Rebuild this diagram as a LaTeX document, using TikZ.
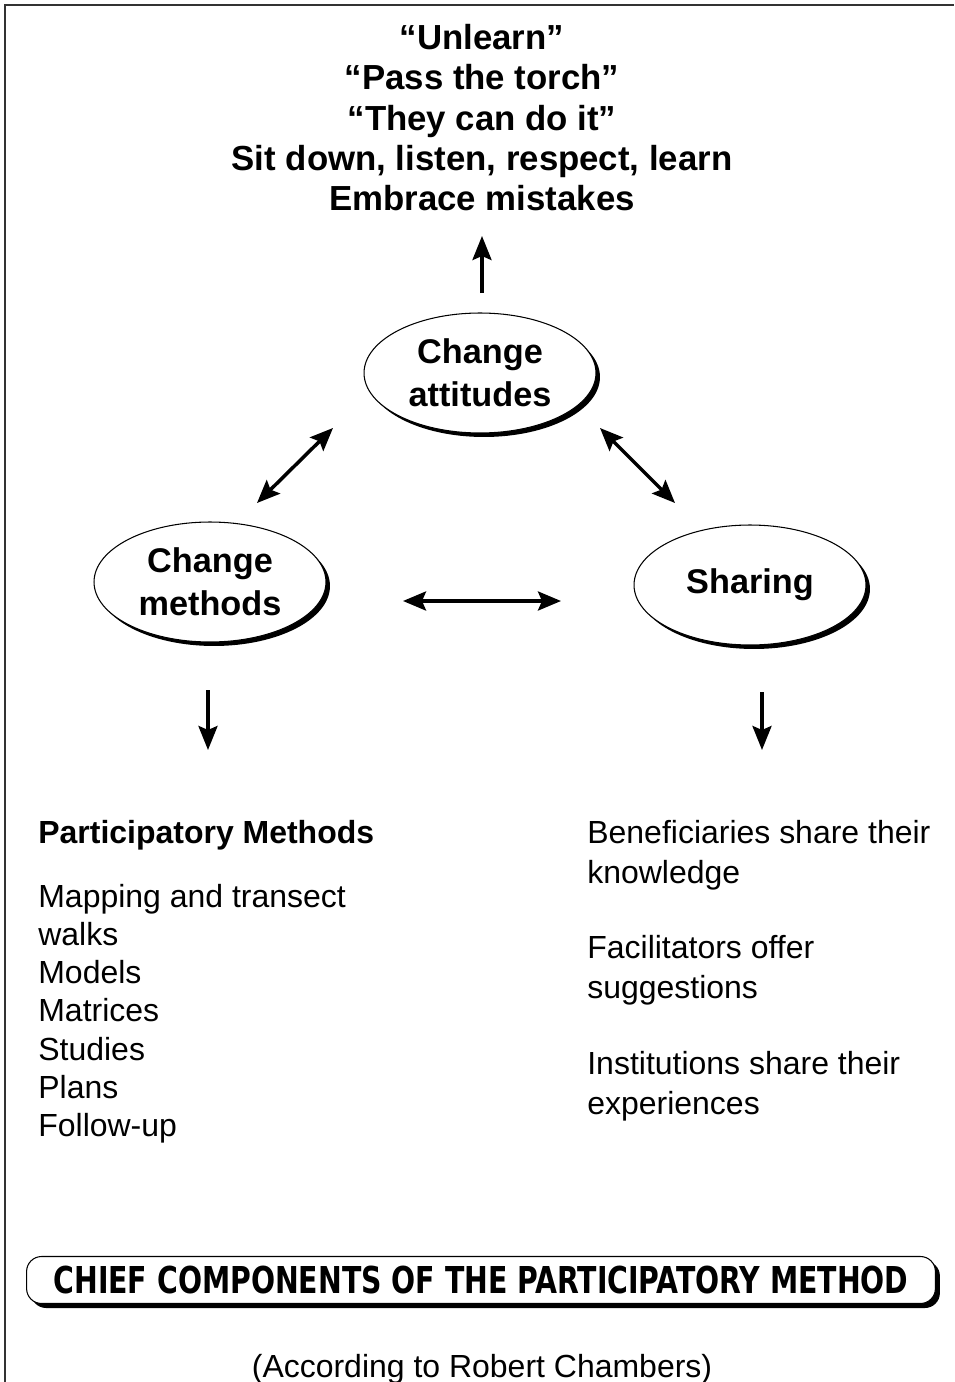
\documentclass[tikz,border=0pt]{standalone}
\usepackage{fontspec}
\setmainfont{Liberation Sans}
\newfontfamily\bannerfont{DejaVu Sans Condensed}
\usetikzlibrary{arrows.meta,shapes.geometric,shadows}

\tikzset{
  bubble/.style={ellipse,draw=black,line width=0.6pt,fill=white,
    minimum width=4.64cm,minimum height=2.4cm,inner sep=0pt,align=center,
    font=\fontsize{19.5}{24.5}\selectfont\bfseries,
    drop shadow={shadow xshift=0.08cm,shadow yshift=-0.08cm,opacity=1,fill=black}},
  twoway/.style={{Stealth[length=0.46cm,width=0.38cm,inset=0.08cm]}-{Stealth[length=0.46cm,width=0.38cm,inset=0.08cm]},line width=2pt},
  oneway/.style={-{Stealth[length=0.48cm,width=0.38cm,inset=0.08cm]},line width=2pt},
  listtext/.style={inner sep=0pt,align=left,font=\fontsize{18.2}{21.7}\selectfont},
}

\begin{document}
\begin{tikzpicture}[x=0.02cm,y=-0.02cm]
\useasboundingbox (0,0) rectangle (954,1382);
\draw[gray!40!black,line width=0.04cm] (5,1382) -- (5,5) -- (954,5);

% what the change leads to
\node[anchor=north,inner sep=0pt,align=center,font=\fontsize{19.8}{22.9}\selectfont\bfseries] (goals) at (482,24)
  {``Unlearn''\\``Pass the torch''\\``They can do it''\\Sit down, listen, respect, learn\\Embrace mistakes};

% the three components
\node[bubble] (att) at (480,373) {Change\\attitudes};
\node[bubble] (meth) at (210,582) {Change\\methods};
\node[bubble] (shar) at (750,585) {Sharing};

\coordinate (up0) at (482,293);
\coordinate (up1) at (482,236);
\coordinate (ma0) at (257,503);
\coordinate (ma1) at (333,428);
\coordinate (as0) at (600,428);
\coordinate (as1) at (675,503);
\coordinate (ms0) at (403,601);
\coordinate (ms1) at (561,601);
\coordinate (md0) at (208,690);
\coordinate (md1) at (208,750);
\coordinate (sd0) at (762,692);
\coordinate (sd1) at (762,750);

\draw[oneway] (up0) -- (up1);
\draw[twoway] (ma0) -- (ma1);
\draw[twoway] (as0) -- (as1);
\draw[twoway] (ms0) -- (ms1);
\draw[oneway] (md0) -- (md1);
\draw[oneway] (sd0) -- (sd1);

% methods list
\node[anchor=base west,inner sep=0pt,font=\fontsize{18.2}{21.7}\selectfont\bfseries] (mhead) at (38,843) {Participatory Methods};
\node[listtext,anchor=north west] (mlist) at (38,884)
  {Mapping and transect\\walks\\Models\\Matrices\\Studies\\Plans\\Follow-up};

% sharing list
\node[listtext,anchor=north west,font=\fontsize{18.2}{22.7}\selectfont] (s1) at (587,820) {Beneficiaries share their\\knowledge};
\node[listtext,anchor=north west,font=\fontsize{18.2}{22.7}\selectfont] (s2) at (587,935) {Facilitators offer\\suggestions};
\node[listtext,anchor=north west,font=\fontsize{18.2}{22.7}\selectfont] (s3) at (587,1051) {Institutions share their\\experiences};

% title banner
\node[draw=black,line width=0.6pt,fill=white,rounded corners=0.3cm,
  minimum width=18.18cm,minimum height=0.94cm,inner sep=0pt,
  drop shadow={shadow xshift=0.09cm,shadow yshift=-0.09cm,opacity=1,fill=black}] (title) at (481,1280)
  {\resizebox{17.1cm}{0.55cm}{\bannerfont\bfseries CHIEF COMPONENTS OF THE PARTICIPATORY METHOD}};

\node[anchor=base,inner sep=0pt,font=\fontsize{18.2}{21}\selectfont] (source) at (482,1377) {(According to Robert Chambers)};
\end{tikzpicture}
\end{document}
